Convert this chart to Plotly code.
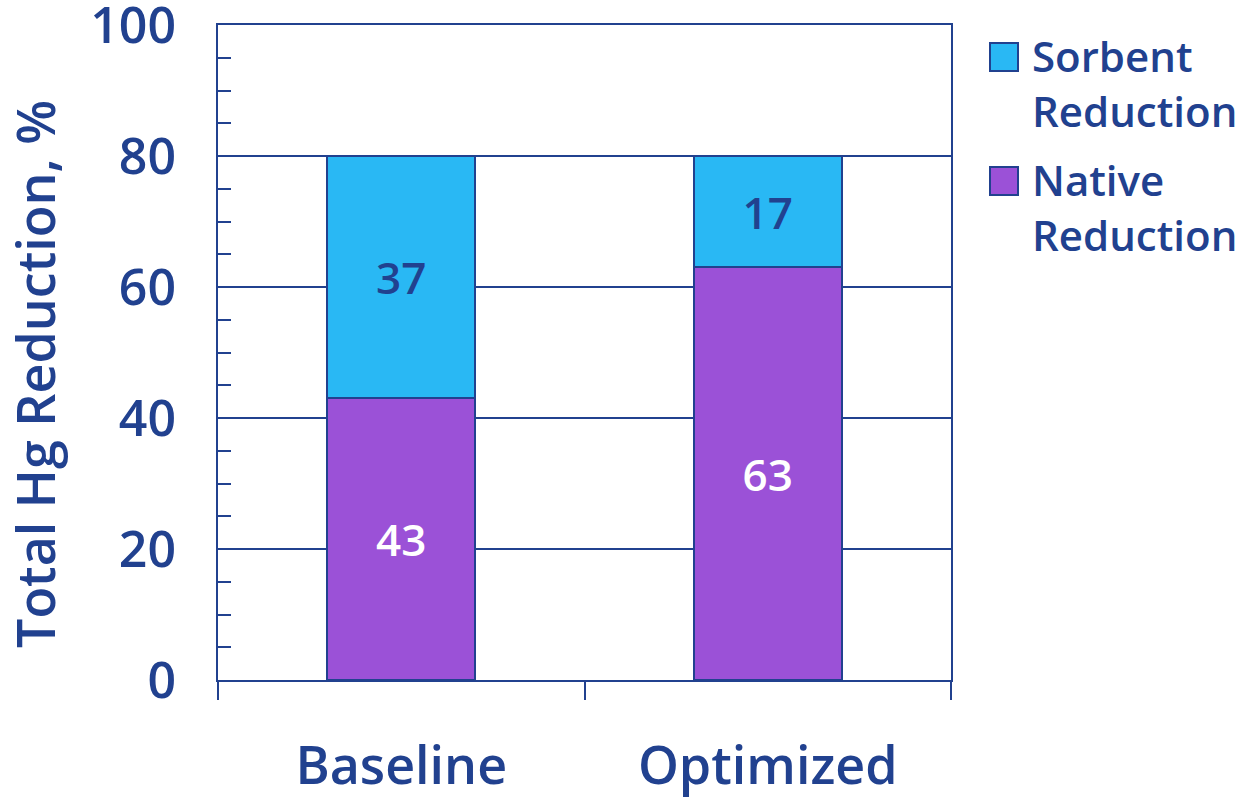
import plotly.graph_objects as go

categories = ["Baseline", "Optimized"]
native_reduction = [43, 63]
sorbent_reduction = [37, 17]
y_ticks = [0, 20, 40, 60, 80, 100]
legend_labels = ["Sorbent<br>Reduction", "Native<br>Reduction"]

NAVY = "#21418F"
SORBENT = "#29B8F4"
NATIVE = "#9B51D7"
FONT = "Open Sans"

fig = go.Figure()

fig.add_trace(go.Bar(
    x=categories, y=native_reduction, name="Native Reduction",
    marker=dict(color=NATIVE, line=dict(color=NAVY, width=2)),
    text=[str(v) for v in native_reduction], textposition="inside",
    insidetextanchor="middle",
    textfont=dict(family=FONT, size=44, color="white", weight=600),
    width=0.404, showlegend=False,
))
fig.add_trace(go.Bar(
    x=categories, y=sorbent_reduction, name="Sorbent Reduction",
    marker=dict(color=SORBENT, line=dict(color=NAVY, width=2)),
    text=[str(v) for v in sorbent_reduction], textposition="inside",
    insidetextanchor="middle",
    textfont=dict(family=FONT, size=44, color=NAVY, weight=600),
    width=0.404, showlegend=False,
))

# Legend: large square swatches with two-line labels (paper coordinates)
plot_w, plot_h = 733, 655
legend_items = [(legend_labels[0], SORBENT, 43), (legend_labels[1], NATIVE, 167)]
shapes, annotations = [], []
for label, col, top_px in legend_items:
    y0 = 1 - (top_px - 25) / plot_h
    y1 = 1 - (top_px + 28 - 25) / plot_h
    shapes.append(dict(
        type="rect", xref="paper", yref="paper",
        x0=(990 - 218) / plot_w, x1=(1018 - 218) / plot_w, y0=y1, y1=y0,
        fillcolor=col, line=dict(color=NAVY, width=2),
    ))
    annotations.append(dict(
        xref="paper", yref="paper", x=(1030 - 218) / plot_w, y=1 - (top_px - 18 - 25) / plot_h,
        xanchor="left", yanchor="top", align="left", showarrow=False,
        text=label, font=dict(family=FONT, size=42, color=NAVY, weight=600),
    ))

# Y-axis title
annotations.append(dict(
    xref="paper", yref="paper", x=(34 - 218) / plot_w, y=1 - (374 - 25) / plot_h,
    xanchor="center", yanchor="middle", textangle=-90, showarrow=False,
    text="Total Hg Reduction, %", font=dict(family=FONT, size=52, color=NAVY, weight=600),
))

fig.update_layout(
    width=1247, height=800,
    margin=dict(l=218, r=296, t=25, b=120, autoexpand=False),
    barmode="stack",
    plot_bgcolor="white", paper_bgcolor="white",
    font=dict(family=FONT, color=NAVY, weight=600),
    showlegend=False,
    shapes=shapes, annotations=annotations,
)

fig.update_xaxes(
    automargin=False,
    showline=True, linecolor=NAVY, linewidth=2, mirror=True,
    ticks="outside", tickson="boundaries", ticklen=18, tickwidth=2, tickcolor=NAVY,
    tickfont=dict(family=FONT, size=52, color=NAVY, weight=600),
    ticklabelstandoff=40,
    showgrid=False,
)
fig.update_yaxes(
    automargin=False,
    range=[0, 100], tickvals=y_ticks,
    showline=True, linecolor=NAVY, linewidth=2, mirror=True,
    showgrid=True, gridcolor=NAVY, gridwidth=2,
    ticks="inside", ticklen=13, tickwidth=2, tickcolor=NAVY,
    minor=dict(dtick=5, ticks="inside", ticklen=13, tickwidth=2, tickcolor=NAVY, showgrid=False),
    tickfont=dict(family=FONT, size=50, color=NAVY, weight=600),
    ticklabelstandoff=30, ticklabeloverflow="allow",
    zeroline=False,
)

fig.write_html("out.html")
